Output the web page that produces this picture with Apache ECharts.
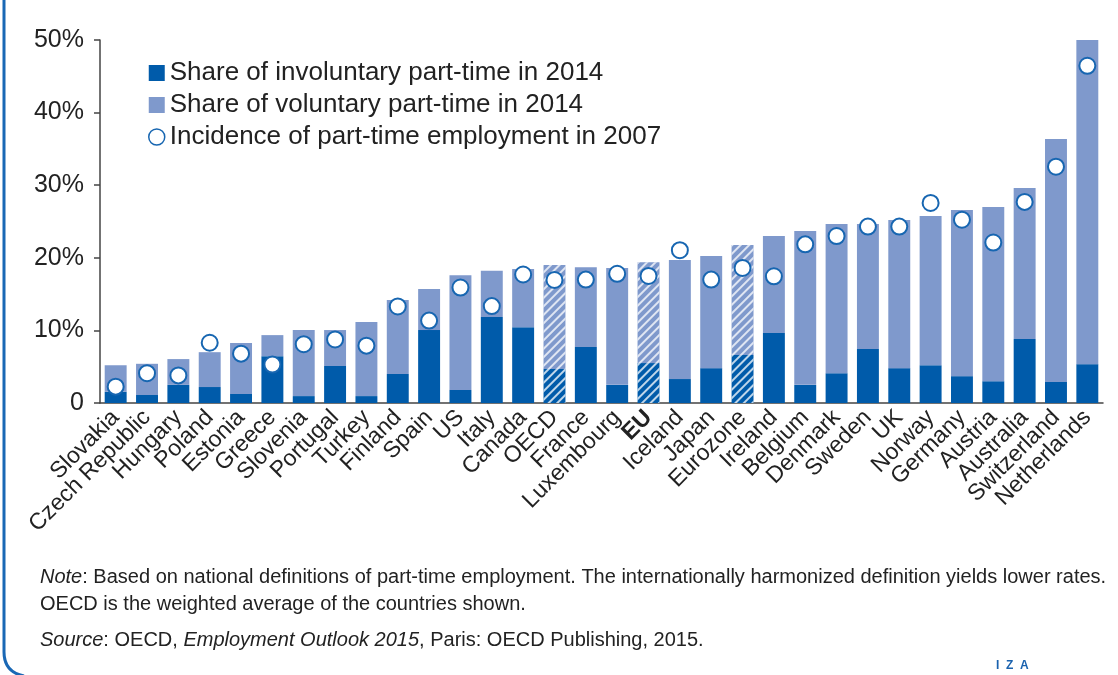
<!DOCTYPE html>
<html><head><meta charset="utf-8">
<script src="https://cdn.jsdelivr.net/npm/echarts@6/dist/echarts.min.js"></script>
<style>html,body{margin:0;padding:0;background:#fff}#c{width:1118px;height:675px}</style>
</head><body><div id="c"></div>
<script>
const categories = ['Slovakia','Czech Republic','Hungary','Poland','Estonia','Greece','Slovenia','Portugal','Turkey','Finland','Spain','US','Italy','Canada','OECD','France','Luxembourg','EU','Iceland','Japan','Eurozone','Ireland','Belgium','Denmark','Sweden','UK','Norway','Germany','Austria','Australia','Switzerland','Netherlands'];
const totalPartTime2014 = [5.2,5.4,6.05,7.0,8.25,9.35,10.05,10.05,11.15,14.2,15.7,17.6,18.2,18.45,19.0,18.7,18.6,19.4,19.7,20.25,21.75,23.0,23.7,24.65,24.65,25.2,25.75,26.6,27.0,29.6,36.35,50.0];
const involuntary2014 = [1.55,1.1,2.5,2.2,1.25,6.45,0.95,5.1,0.95,4.0,10.05,1.8,11.85,10.45,4.7,7.7,2.5,5.5,3.3,4.8,6.6,9.65,2.5,4.1,7.45,4.8,5.2,3.7,3.0,8.8,2.9,5.35];
const incidence2007 = [2.25,4.1,3.8,8.3,6.8,5.3,8.1,8.75,7.9,13.3,11.35,15.9,13.35,17.7,16.95,17.0,17.8,17.5,21.05,17.0,18.6,17.45,21.85,23.0,24.3,24.3,27.55,25.25,22.1,27.7,32.55,46.45];
const hatched = ['OECD','EU','Eurozone'];
const yTicks = [0,10,20,30,40,50];

const DARK = '#005BAA', LIGHT = '#7F99CC', RING = '#1766B1';
const decal = {symbol:'rect', symbolSize:1, color:'rgba(255,255,255,0.75)', dashArrayX:[1,0], dashArrayY:[2,4], rotation:-Math.PI/4};

function barData(vals, color){
  return vals.map((v,i)=>{
    const d = {value: v};
    if (hatched.includes(categories[i])) d.itemStyle = {color, decal};
    return d;
  });
}
const voluntary2014 = totalPartTime2014.map((t,i)=>+(t - involuntary2014[i]).toFixed(2));

const chart = echarts.init(document.getElementById('c'), null, {renderer:'canvas'});
const FONT = '"Liberation Sans", Arial, sans-serif';
chart.setOption({
  animation:false,
  grid:{left:100, right:15, top:40, bottom:272, containLabel:false},
  legend:{
    orient:'vertical', left:143, top:55, itemGap:6, itemWidth:16, itemHeight:16,
    textStyle:{fontSize:26, lineHeight:26, color:'#222', fontFamily:FONT},
    data:[
      {name:'Share of involuntary part-time in 2014', icon:'rect'},
      {name:'Share of voluntary part-time in 2014', icon:'rect'},
      {name:'Incidence of part-time employment in 2007', icon:'circle', itemStyle:{color:'#fff', borderColor:RING, borderWidth:1.5}}
    ]
  },
  xAxis:{
    type:'category', data:categories,
    axisLine:{lineStyle:{color:'#444', width:1.5}},
    axisTick:{length:7, lineStyle:{color:'#444', width:1.5}},
    axisLabel:{rotate:45, margin:11, fontSize:23, color:'#222', fontFamily:FONT, interval:0,
      formatter:v=> v==='EU' ? '{b|EU}' : v,
      rich:{b:{fontWeight:'bold', fontSize:23, fontFamily:FONT, color:'#222'}}}
  },
  yAxis:{
    type:'value', min:0, max:50, interval:10,
    axisLine:{show:true, lineStyle:{color:'#444', width:1.5}},
    axisTick:{show:true, length:6, lineStyle:{color:'#444', width:1.5}},
    splitLine:{show:false},
    axisLabel:{fontSize:25, color:'#222', fontFamily:FONT, margin:16,
      formatter:v=> yTicks.includes(v) ? (v===0?'0':v+'%') : ''}
  },
  series:[
    {name:'Share of involuntary part-time in 2014', type:'bar', stack:'a', barCategoryGap:'30%',
     itemStyle:{color:DARK}, data:barData(involuntary2014, DARK)},
    {name:'Share of voluntary part-time in 2014', type:'bar', stack:'a',
     itemStyle:{color:LIGHT}, data:barData(voluntary2014, LIGHT)},
    {name:'Incidence of part-time employment in 2007', type:'scatter', symbol:'circle', symbolSize:16,
     itemStyle:{color:'#fff', borderColor:RING, borderWidth:2, opacity:1}, z:5, data:incidence2007}
  ],
  graphic:[
    {type:'line', shape:{x1:4, y1:0, x2:4, y2:652}, style:{stroke:'#1A68B5', lineWidth:3}},
    {type:'bezierCurve', shape:{x1:4, y1:652, cpx1:4, cpy1:672, x2:24, y2:676}, style:{stroke:'#1A68B5', lineWidth:3, fill:null}},
    {type:'text', x:40, y:567, style:{text:'{i|Note}: Based on national definitions of part-time employment. The internationally harmonized definition yields lower rates.',
      fontSize:20, fontFamily:FONT, fill:'#222',
      rich:{i:{fontStyle:'italic', fontSize:20, fontFamily:FONT, fill:'#222'}}}},
    {type:'text', x:40, y:594, style:{text:'OECD is the weighted average of the countries shown.',
      fontSize:20, fontFamily:FONT, fill:'#222'}},
    {type:'text', x:40, y:630, style:{text:'{i|Source}: OECD, {i|Employment Outlook 2015}, Paris: OECD Publishing, 2015.',
      fontSize:20, fontFamily:FONT, fill:'#222',
      rich:{i:{fontStyle:'italic', fontSize:20, fontFamily:FONT, fill:'#222'}}}},
    {type:'text', x:996, y:660, style:{text:'I  Z  A', fontSize:12, fontWeight:'bold', fontFamily:FONT, fill:'#1A62AE'}}
  ]
});
</script></body></html>
